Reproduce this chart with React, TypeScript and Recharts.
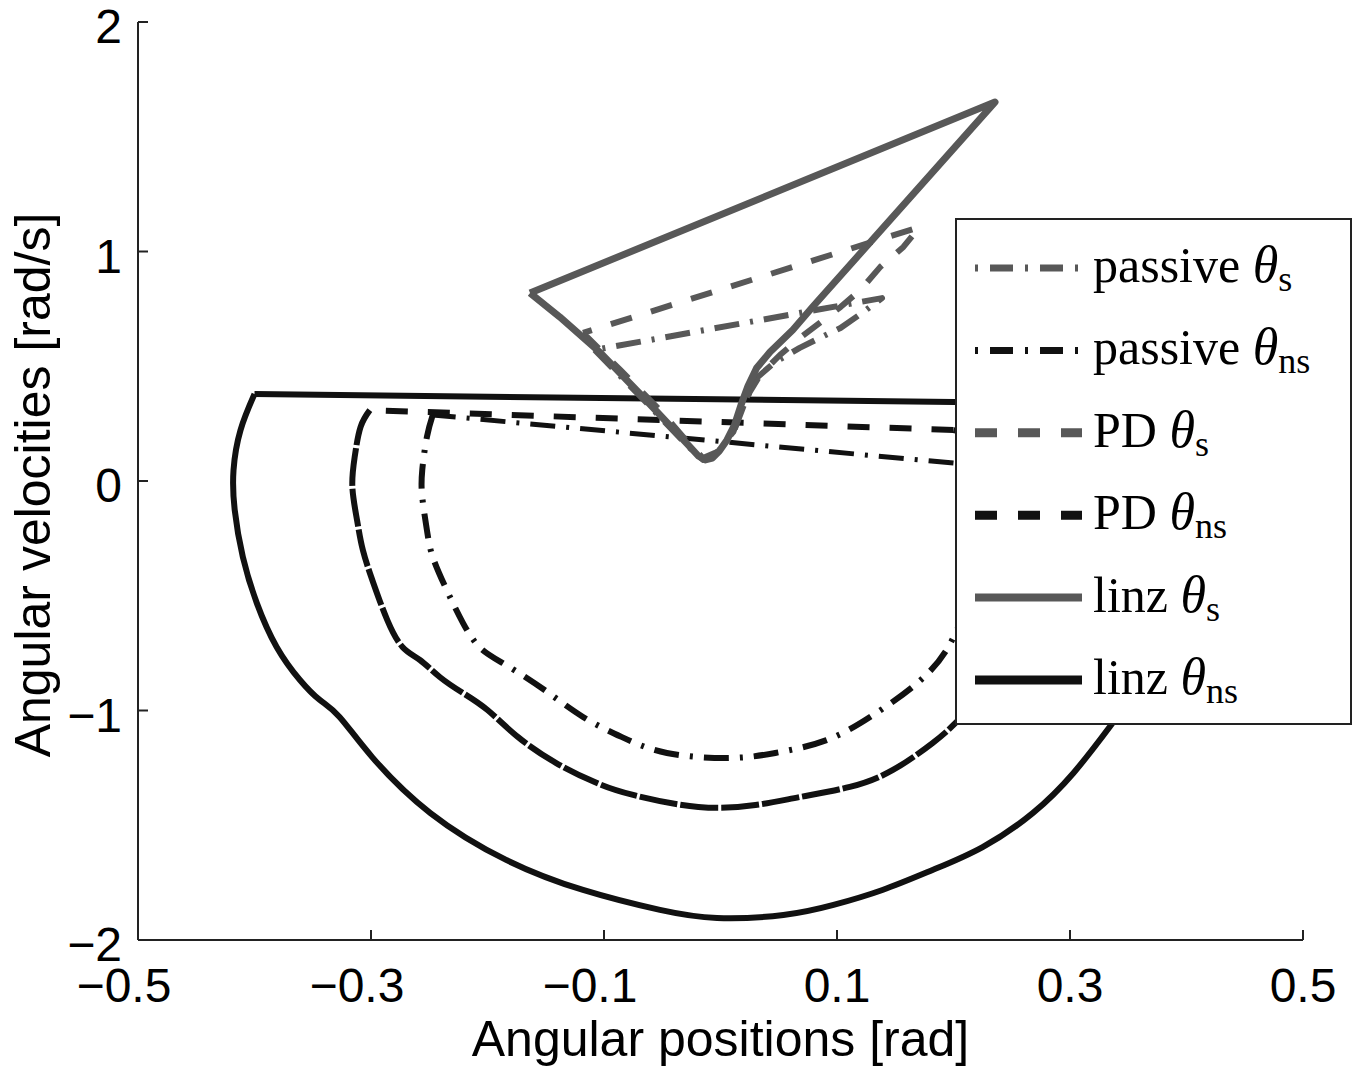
import React from 'react';
import { LineChart, Line, XAxis, YAxis, Legend } from 'recharts';

type Pt = [number, number];

// axis ticks
const xTicks = [-0.5, -0.3, -0.1, 0.1, 0.3, 0.5];
const yTicks = [-2, -1, 0, 1, 2];

// stance leg cycles (gray) as [position, velocity]
const passiveS: Pt[] = [
  [-0.108, 0.571], [-0.0665, 0.357], [-0.029, 0.157], [-0.015, 0.092], [-0.003, 0.122],
  [0.011, 0.209], [0.021, 0.344], [0.031, 0.449], [0.047, 0.519], [0.068, 0.58],
  [0.085, 0.623], [0.103, 0.667], [0.1215, 0.732], [0.1386, 0.797], [-0.108, 0.571],
];

const pdS: Pt[] = [
  [-0.118, 0.645], [-0.086, 0.484], [-0.052, 0.309], [-0.026, 0.157], [-0.015, 0.1],
  [-0.003, 0.126], [0.011, 0.214], [0.021, 0.353], [0.034, 0.462], [0.051, 0.549],
  [0.068, 0.623], [0.103, 0.758], [0.12, 0.832], [0.137, 0.932], [0.157, 1.02],
  [0.171, 1.107], [-0.118, 0.645],
];

const linzS: Pt[] = [
  [-0.1635, 0.819], [-0.138, 0.715], [-0.103, 0.558], [-0.0665, 0.366], [-0.026, 0.148],
  [-0.019, 0.109], [-0.013, 0.092], [-0.007, 0.1], [-0.001, 0.131], [0.0056, 0.179],
  [0.012, 0.244], [0.0176, 0.331], [0.0236, 0.414], [0.031, 0.492], [0.0425, 0.562],
  [0.062, 0.658], [0.079, 0.758], [0.2356, 1.651], [-0.1635, 0.819],
];

// non-stance leg cycles (black): swing arc + straight impact jump
const passiveNsArc: Pt[] = [
  [-0.247, 0.288], [-0.252, 0.192], [-0.256, 0.048], [-0.256, -0.07], [-0.252, -0.214],
  [-0.247, -0.331], [-0.235, -0.475], [-0.221, -0.619], [-0.206, -0.728], [-0.184, -0.802],
  [-0.151, -0.911], [-0.118, -1.028], [-0.085, -1.115], [-0.046, -1.185], [0.007, -1.207],
  [0.047, -1.185], [0.091, -1.129], [0.131, -1.02], [0.169, -0.88], [0.194, -0.736],
  [0.21, -0.562], [0.219, -0.388], [0.223, -0.192], [0.219, -0.017], [0.2, 0.078],
];
const passiveNsJump: Pt[] = [[0.2, 0.078], [-0.247, 0.288]];

const pdNsArc: Pt[] = [
  [-0.301, 0.309], [-0.309, 0.235], [-0.314, 0.105], [-0.316, -0.026], [-0.312, -0.17],
  [-0.307, -0.301], [-0.298, -0.444], [-0.286, -0.606], [-0.273, -0.723], [-0.258, -0.78],
  [-0.241, -0.854], [-0.221, -0.924], [-0.2, -0.998], [-0.174, -1.115], [-0.141, -1.229],
  [-0.108, -1.312], [-0.075, -1.368], [-0.019, -1.42], [0.03, -1.412], [0.068, -1.377],
  [0.111, -1.333], [0.148, -1.259], [0.182, -1.142], [0.2, -1.063], [0.219, -0.954],
  [0.236, -0.78], [0.247, -0.519], [0.25, -0.257], [0.247, 0.004], [0.236, 0.157],
  [0.2, 0.222],
];
const pdNsJump: Pt[] = [[0.2, 0.222], [-0.301, 0.309]];

const linzNsArc: Pt[] = [
  [-0.4, 0.379], [-0.412, 0.222], [-0.418, 0.048], [-0.417, -0.126], [-0.41, -0.331],
  [-0.398, -0.532], [-0.381, -0.723], [-0.361, -0.867], [-0.344, -0.954], [-0.327, -1.028],
  [-0.299, -1.203], [-0.249, -1.447], [-0.184, -1.651], [-0.118, -1.782], [-0.052, -1.869],
  [-0.003, -1.904], [0.054, -1.891], [0.097, -1.847], [0.139, -1.782], [0.182, -1.695],
  [0.225, -1.595], [0.268, -1.447], [0.303, -1.272], [0.334, -1.072], [0.36, -0.867],
  [0.377, -0.606], [0.388, -0.301], [0.388, 0.004], [0.377, 0.222], [0.33, 0.338],
];
const linzNsJump: Pt[] = [[0.33, 0.338], [0.2, 0.344], [-0.4, 0.379]];

const toRows = (pts: Pt[]) => pts.map(([x, y]) => ({ x, y }));

const GRAY = '#585858';
const BLACK = '#111111';
const DASH = '22 20';
const DASH_DOT = '25 11 3 11';
const SANS = "'Liberation Sans', Arial, Helvetica, sans-serif";
const SERIF = "'Liberation Serif', 'Times New Roman', serif";

const legendItems = [
  { name: 'passive', sub: 's', color: GRAY, dash: '3 12 23 12', w: 7 },
  { name: 'passive', sub: 'ns', color: BLACK, dash: '3 12 23 12', w: 7 },
  { name: 'PD', sub: 's', color: GRAY, dash: '22 21', w: 9 },
  { name: 'PD', sub: 'ns', color: BLACK, dash: '22 21', w: 9 },
  { name: 'linz', sub: 's', color: GRAY, dash: undefined, w: 8 },
  { name: 'linz', sub: 'ns', color: BLACK, dash: undefined, w: 9 },
];

const LegendBox = () => (
  <svg width={397} height={507} style={{ display: 'block' }}>
    <rect x={1} y={1} width={395} height={505} fill="#fff" stroke="#222" strokeWidth={2} />
    {legendItems.map((it, i) => {
      const cy = 50 + i * 82.4;
      return (
        <g key={i}>
          <line x1={20} x2={127} y1={cy} y2={cy} stroke={it.color} strokeWidth={it.w} strokeDasharray={it.dash} />
          <text x={138} y={cy + 14} fontFamily={SERIF} fontSize={50} fill="#000">
            {it.name} <tspan fontStyle="italic" fontSize={52}>θ</tspan>
            <tspan fontSize={36} dy={9}>{it.sub}</tspan>
          </text>
        </g>
      );
    })}
  </svg>
);

const fmt = (v: number) => (v < 0 ? '\u2212' + Math.abs(v) : String(v));

const XTick = ({ x, y, payload }: any) => {
  const v = payload.value as number;
  return (
    <text x={x + (v < 0 ? -14 : 0)} y={y + 34} textAnchor="middle" fontFamily={SANS} fontSize={48} fill="#000">
      {fmt(v)}
    </text>
  );
};

const YTick = ({ x, y, payload }: any) => (
  <text x={x} y={y + 21} textAnchor="end" fontFamily={SANS} fontSize={48} fill="#000">
    {fmt(payload.value as number)}
  </text>
);

const XLabel = ({ viewBox }: any) => (
  <text x={viewBox.x + viewBox.width / 2} y={viewBox.y + 116} textAnchor="middle"
    fontFamily={SANS} fontSize={50} fill="#000">Angular positions [rad]</text>
);

const YLabel = ({ viewBox }: any) => {
  const x = viewBox.x + 50;
  const y = viewBox.y + viewBox.height / 2 + 4;
  return (
    <text x={x} y={y} transform={`rotate(-90, ${x}, ${y})`} textAnchor="middle"
      fontFamily={SANS} fontSize={50} fill="#000">Angular velocities [rad/s]</text>
  );
};

export default function App() {
  const axisLine = { stroke: '#222', strokeWidth: 2 };
  const common = { dataKey: 'y', dot: false, activeDot: false, isAnimationActive: false, strokeLinejoin: 'round' as const };
  return (
    <div style={{ position: 'absolute', left: 0, top: 0, background: '#fff' }}>
      <LineChart width={1360} height={1068} margin={{ top: 22, right: 57, bottom: 0, left: 0 }}>
        <XAxis type="number" dataKey="x" domain={[-0.5, 0.5]} ticks={xTicks} interval={0}
          height={128} tickSize={-10} tickMargin={38} tick={<XTick />}
          axisLine={axisLine} tickLine={axisLine} label={<XLabel />} />
        <YAxis type="number" dataKey="y" domain={[-2, 2]} ticks={yTicks} interval={0}
          width={138} tickSize={-10} tickMargin={26} tick={<YTick />}
          axisLine={axisLine} tickLine={axisLine} label={<YLabel />} />
        <Line {...common} data={toRows(passiveNsArc)} type="natural" stroke={BLACK} strokeWidth={6} strokeDasharray={DASH_DOT} />
        <Line {...common} data={toRows(passiveNsJump)} type="linear" stroke={BLACK} strokeWidth={5} strokeDasharray={DASH_DOT} />
        <Line {...common} data={toRows(pdNsArc)} type="natural" stroke={BLACK} strokeWidth={6} strokeDasharray="38 3" />
        <Line {...common} data={toRows(pdNsJump)} type="linear" stroke={BLACK} strokeWidth={6} strokeDasharray={DASH} />
        <Line {...common} data={toRows(linzNsArc)} type="natural" stroke={BLACK} strokeWidth={6} />
        <Line {...common} data={toRows(linzNsJump)} type="linear" stroke={BLACK} strokeWidth={6} />
        <Line {...common} data={toRows(passiveS)} type="linear" stroke={GRAY} strokeWidth={6} strokeDasharray={DASH_DOT} />
        <Line {...common} data={toRows(pdS)} type="linear" stroke={GRAY} strokeWidth={6} strokeDasharray={DASH} />
        <Line {...common} data={toRows(linzS)} type="linear" stroke={GRAY} strokeWidth={7} />
        <Legend layout="vertical" align="center" verticalAlign="middle" content={<LegendBox />}
          wrapperStyle={{ left: 955, top: 218, width: 397, height: 507 }} />
      </LineChart>
    </div>
  );
}
